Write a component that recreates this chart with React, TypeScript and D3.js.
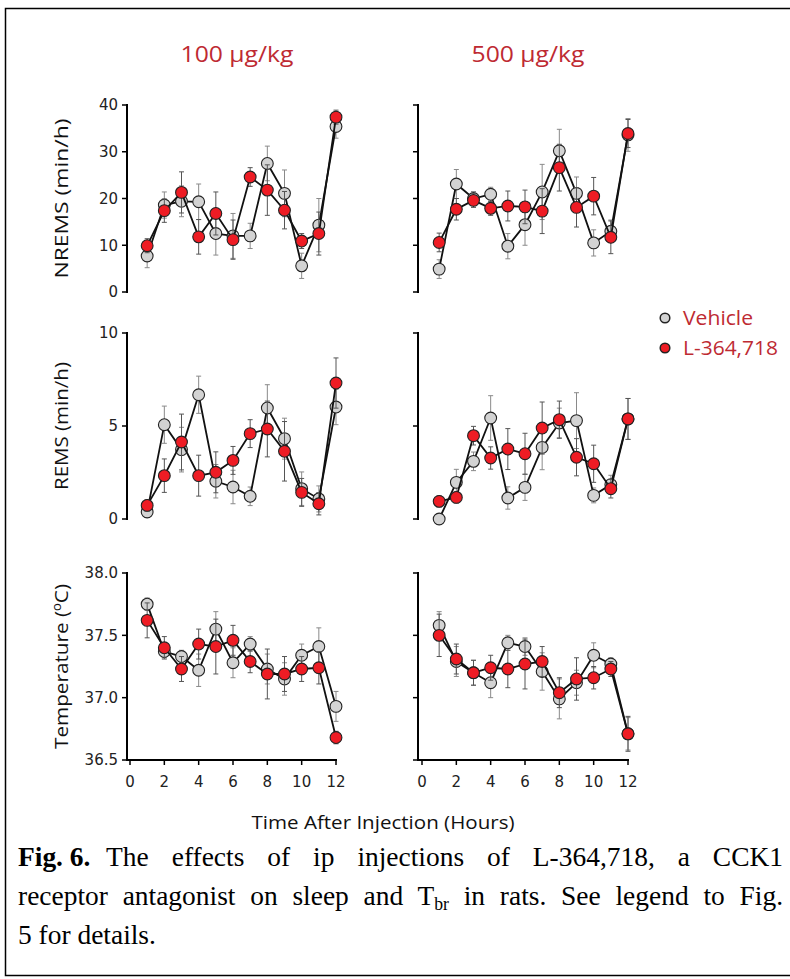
import React, { useLayoutEffect, useRef, useState } from "react";
import * as d3 from "d3";

// ---------- data ----------
const hours = [1, 2, 3, 4, 5, 6, 7, 8, 9, 10, 11, 12];
const xTicks = [0, 2, 4, 6, 8, 10, 12];
const doseTitles = ["100 µg/kg", "500 µg/kg"];
const seriesNames = ["Vehicle", "L-364,718"];

const nremsVeh100 = [7.7, 18.6, 19.4, 19.3, 12.5, 12.0, 12.0, 27.5, 21.1, 5.6, 14.3, 35.4];
const nremsVeh100Se = [2.5, 2.8, 3.3, 3.8, 4.6, 4.8, 2.7, 3.7, 5.0, 2.7, 5.7, 2.5];
const nremsDrug100 = [9.9, 17.4, 21.3, 11.8, 16.8, 11.2, 24.6, 21.8, 17.5, 10.9, 12.5, 37.4];
const nremsDrug100Se = [1.5, 2.5, 4.4, 3.7, 4.6, 4.2, 2.0, 5.4, 4.0, 1.6, 4.6, 1.5];

const nremsVeh500 = [4.9, 23.1, 20.0, 20.9, 9.8, 14.4, 21.4, 30.2, 21.1, 10.5, 13.0, 33.6];
const nremsVeh500Se = [2.0, 3.1, 1.5, 1.5, 2.7, 4.4, 5.9, 4.6, 3.5, 2.8, 2.4, 3.5];
const nremsDrug500 = [10.6, 17.7, 19.6, 17.9, 18.4, 18.2, 17.3, 26.6, 18.1, 20.5, 11.7, 33.9];
const nremsDrug500Se = [2.0, 2.3, 1.5, 1.5, 3.2, 3.6, 4.8, 5.0, 4.2, 4.0, 3.5, 3.0];

const remsVeh100 = [0.38, 5.07, 3.73, 6.68, 2.03, 1.72, 1.22, 5.97, 4.32, 1.63, 1.08, 6.02];
const remsVeh100Se = [0.3, 1.0, 1.2, 1.0, 0.9, 0.9, 0.5, 1.25, 1.1, 0.9, 0.7, 0.95];
const remsDrug100 = [0.73, 2.33, 4.14, 2.33, 2.51, 3.15, 4.59, 4.84, 3.64, 1.43, 0.82, 7.31];
const remsDrug100Se = [0.3, 0.9, 1.5, 1.1, 1.1, 0.75, 0.75, 1.5, 1.6, 0.75, 0.6, 1.35];

const remsVeh500 = [0.0, 1.97, 3.1, 5.43, 1.13, 1.7, 3.85, 5.16, 5.29, 1.27, 1.85, 5.38];
const remsVeh500Se = [0.2, 0.7, 0.5, 1.2, 0.6, 0.7, 1.2, 0.8, 1.5, 0.4, 0.5, 1.1];
const remsDrug500 = [0.95, 1.16, 4.48, 3.28, 3.76, 3.51, 4.89, 5.34, 3.32, 2.97, 1.63, 5.38];
const remsDrug500Se = [0.3, 0.3, 0.5, 0.6, 1.1, 1.1, 1.4, 1.0, 1.0, 1.0, 0.5, 1.1];

const tempVeh100 = [37.75, 37.37, 37.33, 37.22, 37.55, 37.28, 37.43, 37.23, 37.15, 37.34, 37.41, 36.93];
const tempVeh100Se = [0.05, 0.05, 0.05, 0.13, 0.14, 0.12, 0.06, 0.12, 0.13, 0.09, 0.15, 0.12];
const tempDrug100 = [37.62, 37.4, 37.23, 37.43, 37.41, 37.46, 37.29, 37.19, 37.19, 37.23, 37.24, 36.68];
const tempDrug100Se = [0.14, 0.09, 0.1, 0.12, 0.22, 0.12, 0.09, 0.2, 0.14, 0.1, 0.13, 0.05];

const tempVeh500 = [37.58, 37.29, 37.2, 37.12, 37.44, 37.41, 37.21, 36.99, 37.12, 37.34, 37.27, 36.71];
const tempVeh500Se = [0.11, 0.12, 0.1, 0.12, 0.06, 0.07, 0.15, 0.16, 0.1, 0.1, 0.05, 0.13];
const tempDrug500 = [37.5, 37.31, 37.2, 37.24, 37.23, 37.27, 37.29, 37.04, 37.15, 37.16, 37.23, 36.71];
const tempDrug500Se = [0.17, 0.12, 0.1, 0.1, 0.15, 0.2, 0.12, 0.12, 0.17, 0.09, 0.06, 0.14];

const nremsTicks = [0, 10, 20, 30, 40];
const remsTicks = [0, 5, 10];
const tempTicks = [36.5, 37.0, 37.5, 38.0];

// ---------- styles ----------
const GRAY_FILL = "#d3d3d3";
const RED_FILL = "#ee1c24";
const TITLE_RED = "#be2a32";
const LABEL_FONT = "'Open Sans', sans-serif";
const TICK_FONT = "'DejaVu Sans', sans-serif";

type Row = {
  label: string;
  domain: [number, number];
  ticks: number[];
  fmt: (v: number) => string;
  yTop: number;
  yBottom: number;
  data: { veh: number[]; vehSe: number[]; drug: number[]; drugSe: number[] }[];
  labelLen: number;
};

const rows: Row[] = [
  {
    label: "NREMS (min/h)",
    domain: [0, 40],
    ticks: nremsTicks,
    fmt: d3.format("d"),
    yTop: 105,
    yBottom: 292,
    labelLen: 160,
    data: [
      { veh: nremsVeh100, vehSe: nremsVeh100Se, drug: nremsDrug100, drugSe: nremsDrug100Se },
      { veh: nremsVeh500, vehSe: nremsVeh500Se, drug: nremsDrug500, drugSe: nremsDrug500Se },
    ],
  },
  {
    label: "REMS (min/h)",
    domain: [0, 10],
    ticks: remsTicks,
    fmt: d3.format("d"),
    yTop: 333,
    yBottom: 519,
    labelLen: 128,
    data: [
      { veh: remsVeh100, vehSe: remsVeh100Se, drug: remsDrug100, drugSe: remsDrug100Se },
      { veh: remsVeh500, vehSe: remsVeh500Se, drug: remsDrug500, drugSe: remsDrug500Se },
    ],
  },
  {
    label: "TEMP",
    domain: [36.5, 38],
    ticks: tempTicks,
    fmt: d3.format(".1f"),
    yTop: 573,
    yBottom: 760,
    labelLen: 165,
    data: [
      { veh: tempVeh100, vehSe: tempVeh100Se, drug: tempDrug100, drugSe: tempDrug100Se },
      { veh: tempVeh500, vehSe: tempVeh500Se, drug: tempDrug500, drugSe: tempDrug500Se },
    ],
  },
];

const cols = [
  { axisX: 127, x0: 130, x1: 336, titleX: 237 },
  { axisX: 418, x0: 422, x1: 628, titleX: 528 },
];

function Series({
  x,
  y,
  vals,
  se,
  fill,
  barColor,
}: {
  x: d3.ScaleLinear<number, number>;
  y: d3.ScaleLinear<number, number>;
  vals: number[];
  se: number[];
  fill: string;
  barColor: string;
}) {
  const line = d3
    .line<number>()
    .x((_, i) => x(hours[i]))
    .y((d) => y(d));
  return (
    <g>
      {vals.map((v, i) => {
        const cx = x(hours[i]);
        const yt = y(v + se[i]);
        const yb = y(v - se[i]);
        return (
          <g key={i} stroke={barColor} strokeWidth={1}>
            <line x1={cx} x2={cx} y1={yt} y2={yb} />
            <line x1={cx - 2.5} x2={cx + 2.5} y1={yt} y2={yt} />
            <line x1={cx - 2.5} x2={cx + 2.5} y1={yb} y2={yb} />
          </g>
        );
      })}
      <path d={line(vals) || ""} fill="none" stroke="#111" strokeWidth={1.8} />
      {vals.map((v, i) => (
        <circle key={i} cx={x(hours[i])} cy={y(v)} r={5.9} fill={fill} stroke="#222" strokeWidth={1.1} />
      ))}
    </g>
  );
}

function Panel({ row, ci, showYLabels, showX }: { row: Row; ci: number; showYLabels: boolean; showX: boolean }) {
  const c = cols[ci];
  const x = d3.scaleLinear().domain([0, 12]).range([c.x0, c.x1]);
  const y = d3.scaleLinear().domain(row.domain).range([row.yBottom, row.yTop]);
  const d = row.data[ci];
  return (
    <g>
      <line x1={c.axisX} x2={c.axisX} y1={y(row.domain[0]) + 1} y2={y(row.domain[1]) - 1} stroke="#000" strokeWidth={2} />
      {row.ticks.map((t) => (
        <g key={t}>
          <line x1={c.axisX - 5} x2={c.axisX} y1={y(t)} y2={y(t)} stroke="#000" strokeWidth={1.5} />
          {showYLabels && (
            <text x={c.axisX - 9} y={y(t)} dy="0.36em" textAnchor="end" fontFamily={TICK_FONT} fontSize={15} fill="#222">
              {row.fmt(t)}
            </text>
          )}
        </g>
      ))}
      {showX && (
        <g>
          <line x1={c.axisX - 1} x2={x(12) + 1} y1={row.yBottom} y2={row.yBottom} stroke="#000" strokeWidth={2} />
          {xTicks.map((t) => (
            <g key={t}>
              <line x1={x(t)} x2={x(t)} y1={row.yBottom} y2={row.yBottom + 5} stroke="#000" strokeWidth={1.5} />
              <text x={x(t)} y={row.yBottom + 27} textAnchor="middle" fontFamily={TICK_FONT} fontSize={15} fill="#222">
                {t}
              </text>
            </g>
          ))}
        </g>
      )}
      <Series x={x} y={y} vals={d.veh} se={d.vehSe} fill={GRAY_FILL} barColor="#8a8a8a" />
      <Series x={x} y={y} vals={d.drug} se={d.drugSe} fill={RED_FILL} barColor="#555" />
    </g>
  );
}

function JustLine({
  x,
  y,
  width,
  scale,
  justify,
  reserved = 0,
  children,
}: {
  x: number;
  y: number;
  width: number;
  scale: number;
  justify: boolean;
  reserved?: number;
  children: React.ReactNode;
}) {
  const ref = useRef<SVGTextElement>(null);
  const [ws, setWs] = useState(0);
  useLayoutEffect(() => {
    if (!justify || !ref.current) return;
    const el = ref.current;
    const len = el.getComputedTextLength();
    const txt = el.textContent || "";
    const spaces = (txt.match(/ /g) || []).length;
    if (spaces > 0) setWs(Math.max(0, (width / scale - len - reserved) / spaces));
  }, []);
  return (
    <g transform={`translate(${x},${y}) scale(${scale},1)`}>
      <text
        ref={ref}
        x={0}
        y={0}
        fontFamily="'Liberation Serif', 'Times New Roman', serif"
        fontSize={28}
        fill="#000"
        style={{ wordSpacing: `${ws}px` }}
      >
        {children}
      </text>
    </g>
  );
}

export default function App() {
  return (
    <svg width={790} height={979} style={{ position: "absolute", left: 0, top: 0, background: "#fff" }} xmlns="http://www.w3.org/2000/svg">
      <rect x={0} y={0} width={790} height={979} fill="#fff" />
      <rect x={5.5} y={8.5} width={790} height={967} fill="none" stroke="#000" strokeWidth={1.5} />

      {doseTitles.map((t, i) => (
        <text
          key={t}
          x={cols[i].titleX}
          y={62}
          textAnchor="middle"
          fontFamily={LABEL_FONT}
          fontSize={21}
          fill={TITLE_RED}
          textLength={113}
          lengthAdjust="spacingAndGlyphs"
        >
          {t}
        </text>
      ))}

      {rows.map((row, ri) =>
        cols.map((_, ci) => <Panel key={`${ri}-${ci}`} row={row} ci={ci} showYLabels={ci === 0} showX={ri === 2} />)
      )}

      {rows.map((row) => {
        const cy = (row.yTop + row.yBottom) / 2;
        return (
          <text
            key={row.label}
            transform={`translate(68,${cy}) rotate(-90)`}
            textAnchor="middle"
            fontFamily={LABEL_FONT}
            fontSize={19}
            fill="#111"
            textLength={row.labelLen}
            lengthAdjust="spacingAndGlyphs"
          >
            {row.label === "TEMP" ? (
              <>
                Temperature (
                <tspan fontSize={12} dy={-7}>
                  o
                </tspan>
                <tspan dy={7}>C)</tspan>
              </>
            ) : (
              row.label
            )}
          </text>
        );
      })}

      {seriesNames.map((s, i) => (
        <g key={s}>
          <circle cx={665} cy={318 + i * 30} r={4.8} fill={i === 0 ? GRAY_FILL : RED_FILL} stroke="#222" strokeWidth={1.5} />
          <text
            x={683}
            y={325 + i * 30}
            fontFamily={LABEL_FONT}
            fontSize={20}
            fill={TITLE_RED}
            textLength={i === 0 ? 70 : 95}
            lengthAdjust="spacingAndGlyphs"
          >
            {s}
          </text>
        </g>
      ))}

      <text
        x={383}
        y={829}
        textAnchor="middle"
        fontFamily={LABEL_FONT}
        fontSize={19}
        fill="#111"
        textLength={263}
        lengthAdjust="spacingAndGlyphs"
      >
        Time After Injection (Hours)
      </text>

      <JustLine x={18} y={866} width={765} scale={0.98} justify={true} reserved={23}>
        <tspan fontWeight="bold">Fig.</tspan>
        <tspan fontWeight="bold" dx={7}>6.</tspan>
        <tspan dx={16}>The effects of ip injections of L-364,718, a CCK1</tspan>
      </JustLine>
      <JustLine x={18} y={905} width={765} scale={0.98} justify={true}>
        receptor antagonist on sleep and T
        <tspan fontSize={18} dy={5}>
          br
        </tspan>
        <tspan dy={-5}> in rats. See legend to Fig.</tspan>
      </JustLine>
      <JustLine x={18} y={944} width={765} scale={0.98} justify={false}>
        5 for details.
      </JustLine>
    </svg>
  );
}
